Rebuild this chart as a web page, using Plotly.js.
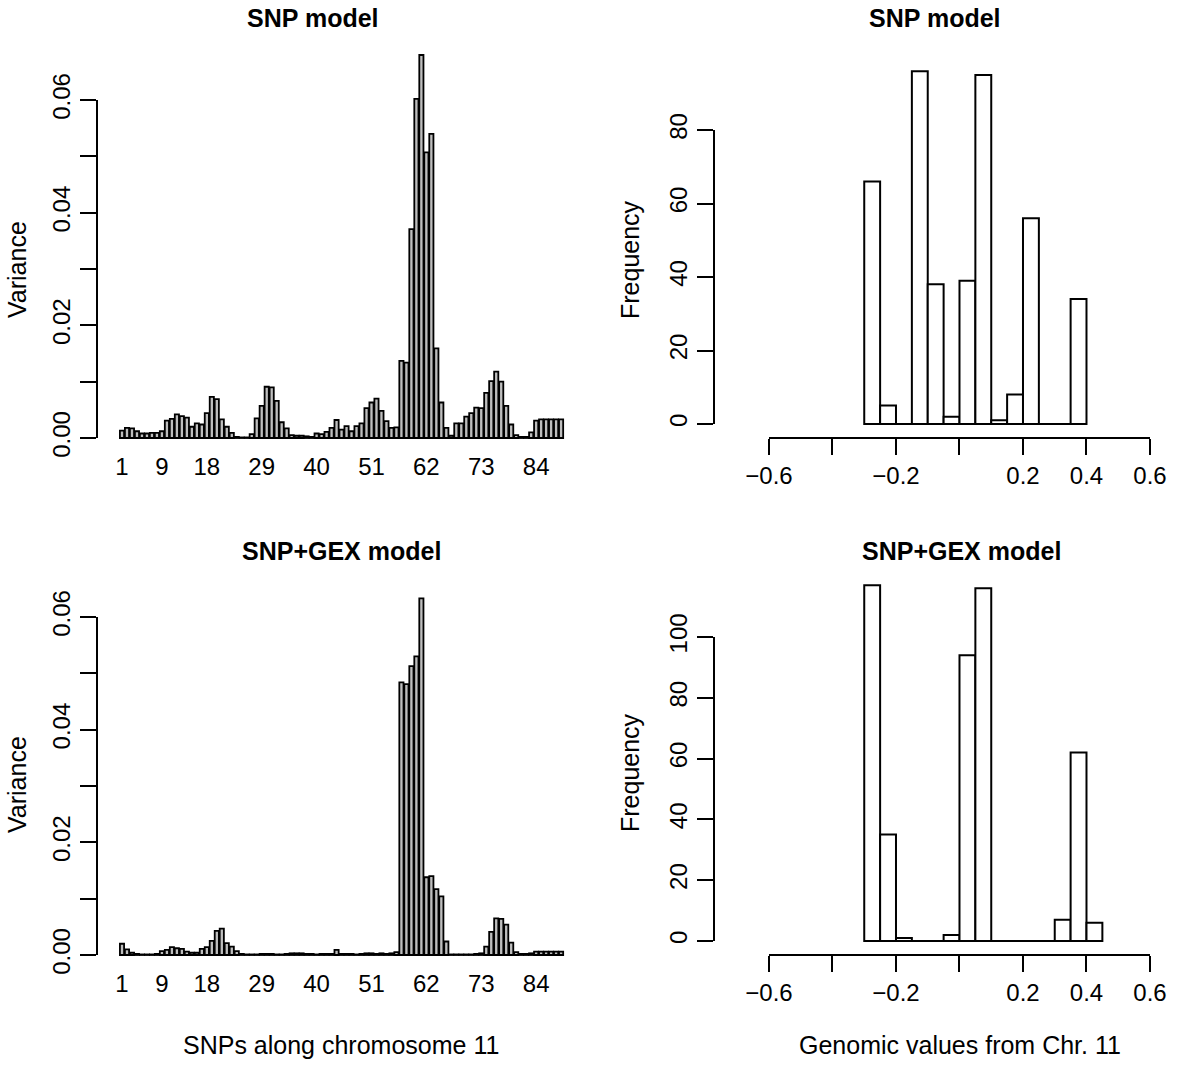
<!DOCTYPE html>
<html>
<head>
<meta charset="utf-8">
<script src="https://cdn.plot.ly/plotly-3.0.1.min.js"></script>
<style>html,body{margin:0;padding:0;background:#fff;}#chart{width:1200px;height:1074px;}</style>
</head>
<body>
<div id="chart"></div>
<script>
// ---------- data ----------
const snpIds = [1,2,3,4,5,6,7,8,9,10,11,12,13,14,15,16,17,18,19,20,21,22,23,24,25,26,27,28,29,30,
  31,32,33,34,35,36,37,38,39,40,41,42,43,44,45,46,47,48,49,50,51,52,53,54,55,56,57,58,59,60,
  61,62,63,64,65,66,67,68,69,70,71,72,73,74,75,76,77,78,79,80,81,82,83,84,85,86,87,88,89];
const snpTickVals = [1, 9, 18, 29, 40, 51, 62, 73, 84];
const snpTickText = ['1', '9', '18', '29', '40', '51', '62', '73', '84'];

const varianceSNP = [
  0.0013,0.0018,0.0017,0.0012,0.0008,0.0008,0.0009,0.0009,0.0012,0.0031,
  0.0034,0.0042,0.0039,0.0036,0.0020,0.0026,0.0024,0.0044,0.0073,0.0069,
  0.0033,0.0020,0.0009,0.0002,0.0001,0.0001,0.0007,0.0035,0.0057,0.0091,
  0.0090,0.0066,0.0028,0.0017,0.0005,0.0004,0.0004,0.0003,0.0002,0.0008,
  0.0007,0.0011,0.0018,0.0032,0.0015,0.0021,0.0012,0.0021,0.0026,0.0053,
  0.0063,0.0070,0.0048,0.0030,0.0018,0.0019,0.0137,0.0134,0.0371,0.0602,
  0.0680,0.0507,0.0540,0.0159,0.0063,0.0018,0.0004,0.0026,0.0026,0.0038,
  0.0044,0.0054,0.0053,0.0080,0.0101,0.0118,0.0100,0.0057,0.0024,0.0005,
  0.0002,0.0002,0.0010,0.0031,0.0033,0.0033,0.0033,0.0033,0.0033];

const varianceSNPGEX = [
  0.0020,0.0010,0.0004,0.0002,0.0001,0.0001,0.0001,0.0002,0.0007,0.0009,
  0.0014,0.0012,0.0011,0.0006,0.0004,0.0004,0.0011,0.0014,0.0025,0.0043,
  0.0047,0.0021,0.0015,0.0007,0.0002,0.0001,0.0001,0.0001,0.0002,0.0002,
  0.0002,0.0001,0.0001,0.0002,0.0003,0.0003,0.0003,0.0002,0.0002,0.0001,
  0.0002,0.0002,0.0002,0.0009,0.0002,0.0002,0.0002,0.0001,0.0002,0.0003,
  0.0003,0.0002,0.0003,0.0002,0.0003,0.0005,0.0484,0.0481,0.0513,0.0530,
  0.0633,0.0138,0.0140,0.0117,0.0104,0.0024,0.0001,0.0001,0.0001,0.0001,
  0.0001,0.0002,0.0003,0.0015,0.0041,0.0065,0.0064,0.0054,0.0022,0.0005,
  0.0002,0.0002,0.0003,0.0006,0.0006,0.0006,0.0006,0.0006,0.0006];

const varTickVals = [0, 0.01, 0.02, 0.03, 0.04, 0.05, 0.06];
const varTickText = ['0.00', '', '0.02', '', '0.04', '', '0.06'];

const breaksSNP = [-0.3,-0.25,-0.2,-0.15,-0.1,-0.05,0,0.05,0.1,0.15,0.2,0.25,0.3,0.35,0.4];
const countsSNP = [66,5,0,96,38,2,39,95,1,8,56,0,0,34];
const breaksGEX = [-0.3,-0.25,-0.2,-0.15,-0.1,-0.05,0,0.05,0.1,0.15,0.2,0.25,0.3,0.35,0.4,0.45];
const countsGEX = [117,35,1,0,0,2,94,116,0,0,0,0,7,62,6];

const genomicTickVals = [-0.6,-0.4,-0.2,0,0.2,0.4,0.6];
const genomicTickText = ['\u22120.6','','\u22120.2','','0.2','0.4','0.6'];
const freqTicksSNP = [0,20,40,60,80];
const freqTicksGEX = [0,20,40,60,80,100];

// ---------- helpers ----------
const W = 1200, H = 1074;
const px = v => v / W;
const py = v => 1 - v / H;
const FONT = 'Liberation Sans, Arial, Helvetica, sans-serif';
const mids = b => b.slice(0, -1).map((v, i) => (v + b[i + 1]) / 2);
const widths = b => b.slice(0, -1).map((v, i) => b[i + 1] - v);

const grayBar = {color: '#BEBEBE', line: {color: '#000', width: 1.8}};
const whiteBar = {color: '#FFFFFF', line: {color: '#000', width: 2}};

const traces = [
  {type: 'bar', x: snpIds, y: varianceSNP, width: 0.8333, marker: grayBar, xaxis: 'x', yaxis: 'y'},
  {type: 'bar', x: mids(breaksSNP), y: countsSNP, width: widths(breaksSNP), marker: whiteBar, xaxis: 'x2', yaxis: 'y2'},
  {type: 'scatter', mode: 'lines', x: [breaksSNP[0], breaksSNP[breaksSNP.length - 1]], y: [0, 0],
   line: {color: '#000', width: 2}, xaxis: 'x2', yaxis: 'y2', hoverinfo: 'skip'},
  {type: 'bar', x: snpIds, y: varianceSNPGEX, width: 0.8333, marker: grayBar, xaxis: 'x3', yaxis: 'y3'},
  {type: 'bar', x: mids(breaksGEX), y: countsGEX, width: widths(breaksGEX), marker: whiteBar, xaxis: 'x4', yaxis: 'y4'},
  {type: 'scatter', mode: 'lines', x: [breaksGEX[0], breaksGEX[breaksGEX.length - 1]], y: [0, 0],
   line: {color: '#000', width: 2}, xaxis: 'x4', yaxis: 'y4', hoverinfo: 'skip'}
];

const tickFont = {family: FONT, size: 24, color: '#000'};
const baseAxis = {showgrid: false, zeroline: false, showline: false, tickfont: tickFont,
  tickcolor: '#000', tickwidth: 2, ticklen: 16, ticks: 'outside', tickmode: 'array', fixedrange: true};

const snpX = (dom, anchor) => Object.assign({}, baseAxis, {
  domain: dom, anchor: anchor, range: [-4.01, 93.39], ticks: '',
  tickvals: snpTickVals, ticktext: snpTickText});
const varY = (dom, anchor) => Object.assign({}, baseAxis, {
  domain: dom, anchor: anchor, range: [-0.00213, 0.07066],
  tickvals: varTickVals, ticktext: varTickText, tickangle: -90});
const genX = (dom, anchor) => Object.assign({}, baseAxis, {
  domain: dom, anchor: anchor, range: [-0.7732, 0.7575],
  tickvals: genomicTickVals, ticktext: genomicTickText});
const freqY = (dom, anchor, range, ticks) => Object.assign({}, baseAxis, {
  domain: dom, anchor: anchor, range: range,
  tickvals: ticks, ticktext: ticks.map(String), tickangle: -90});

const leftDom = [px(97), px(583)];
const rightDom = [px(714), 1];

const layout = {
  width: W, height: H,
  margin: {l: 0, r: 0, t: 0, b: 0},
  paper_bgcolor: '#fff', plot_bgcolor: '#fff',
  showlegend: false, barmode: 'overlay',
  font: {family: FONT, color: '#000'},
  xaxis: snpX(leftDom, 'y'),
  yaxis: varY([py(450), py(40)], 'x'),
  xaxis2: genX(rightDom, 'y2'),
  yaxis2: freqY([py(438), py(40)], 'x2', [-3.81, 104.49], freqTicksSNP),
  xaxis3: snpX(leftDom, 'y3'),
  yaxis3: varY([py(967), py(557)], 'x3'),
  xaxis4: genX(rightDom, 'y4'),
  yaxis4: freqY([py(955), py(557)], 'x4', [-4.605, 126.3], freqTicksGEX),
  shapes: [
    {type: 'line', xref: 'x domain', yref: 'y', x0: 0, x1: 0, y0: varTickVals[0], y1: varTickVals[varTickVals.length - 1], line: {color: '#000', width: 2}},
    {type: 'line', xref: 'x3 domain', yref: 'y3', x0: 0, x1: 0, y0: varTickVals[0], y1: varTickVals[varTickVals.length - 1], line: {color: '#000', width: 2}},
    {type: 'line', xref: 'x2 domain', yref: 'y2', x0: 0, x1: 0, y0: freqTicksSNP[0], y1: freqTicksSNP[freqTicksSNP.length - 1], line: {color: '#000', width: 2}},
    {type: 'line', xref: 'x4 domain', yref: 'y4', x0: 0, x1: 0, y0: freqTicksGEX[0], y1: freqTicksGEX[freqTicksGEX.length - 1], line: {color: '#000', width: 2}},
    {type: 'line', xref: 'x2', yref: 'y2 domain', x0: genomicTickVals[0], x1: genomicTickVals[genomicTickVals.length - 1], y0: 0, y1: 0, line: {color: '#000', width: 2}},
    {type: 'line', xref: 'x4', yref: 'y4 domain', x0: genomicTickVals[0], x1: genomicTickVals[genomicTickVals.length - 1], y0: 0, y1: 0, line: {color: '#000', width: 2}}
  ],
  annotations: [
    {text: '<b>SNP model</b>', x: px(313), y: py(18)},
    {text: '<b>SNP model</b>', x: px(935), y: py(18)},
    {text: '<b>SNP+GEX model</b>', x: px(341), y: py(551)},
    {text: '<b>SNP+GEX model</b>', x: px(961), y: py(551)},
    {text: 'Variance', x: px(17), y: py(270), textangle: -90},
    {text: 'Variance', x: px(17), y: py(785), textangle: -90},
    {text: 'Frequency', x: px(630), y: py(260), textangle: -90},
    {text: 'Frequency', x: px(630), y: py(773), textangle: -90},
    {text: 'SNPs along chromosome 11', x: px(341), y: py(1045)},
    {text: 'Genomic values from Chr. 11', x: px(960), y: py(1045)}
  ].map(a => Object.assign({xref: 'paper', yref: 'paper', xanchor: 'center', yanchor: 'middle',
    showarrow: false, font: {family: FONT, size: 25, color: '#000'}}, a))
};

Plotly.newPlot('chart', traces, layout, {staticPlot: true, displayModeBar: false});
</script>
</body>
</html>
